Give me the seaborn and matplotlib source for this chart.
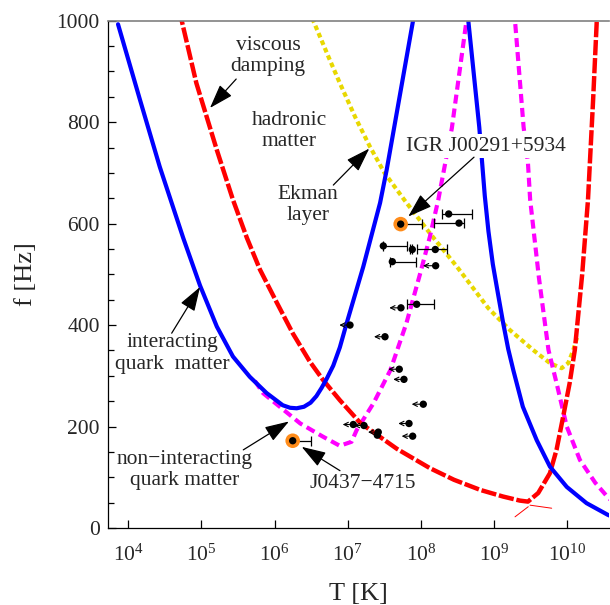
import numpy as np
import pandas as pd
import seaborn as sns
import matplotlib.pyplot as plt
from matplotlib.ticker import FixedLocator, MultipleLocator, LogFormatterSciNotation, NullLocator

#%% Data (log10 of T in K, f in Hz)
# interacting quark matter (blue, solid)
iq1_logT = [3.86, 4.16, 4.43, 4.75, 4.98, 5.21, 5.43, 5.66, 5.89, 6.11, 6.21, 6.30,
            6.40, 6.49, 6.57, 6.64, 6.71, 6.80, 6.89, 6.98, 7.21, 7.44, 7.53, 7.89, 7.93]
iq1_f = [993, 844, 712, 572, 478, 397, 338, 298, 266, 242, 237, 236,
         239, 247, 260, 276, 294, 320, 356, 402, 515, 641, 706, 1000, 1030]
iq2_logT = [8.63, 8.645, 8.795, 8.87, 8.92, 8.98, 9.05, 9.12, 9.19, 9.26, 9.39, 9.58, 9.76,
            9.99, 10.26, 10.55, 10.65]
iq2_f = [1020, 1000, 790, 655, 585, 520, 462, 405, 353, 311, 239, 173, 121,
         81, 49, 26, 20]

# non-interacting quark matter (magenta, dashed)
nq1_logT = [5.73, 5.84, 6.07, 6.35, 6.66, 6.89, 7.05, 7.12, 7.35, 7.58, 7.80, 7.99,
            8.12, 8.235, 8.42, 8.62, 8.64]
nq1_f = [290, 266, 239, 206, 180, 162, 170, 193, 246, 311, 404, 503,
         574, 647, 788, 1000, 1021]
nq2_logT = [9.276, 9.283, 9.40, 9.46, 9.49, 9.61, 9.74, 9.85, 9.99, 10.17, 10.38, 10.56, 10.65]
nq2_f = [1021, 1000, 791, 719, 647, 493, 351, 286, 200, 134, 89, 59, 49]

# hadronic matter, viscous damping (red, long dashes)
hm_logT = [4.69, 4.73, 4.93, 5.07, 5.21, 5.43, 5.62, 5.80, 6.03, 6.25, 6.48, 6.66,
           6.89, 7.17, 7.67, 8.12, 8.45, 8.81, 9.12, 9.35, 9.46, 9.60, 9.76, 9.85, 9.94,
           10.03, 10.10, 10.20, 10.28, 10.35, 10.40, 10.41]
hm_f = [1021, 1000, 877, 811, 745, 647, 572, 509, 444, 383, 328, 292,
        252, 207, 156, 118, 95, 75, 62, 54, 52, 69, 108, 154, 219,
        286, 351, 499, 647, 844, 1000, 1031]
hm_bits_logT = [[9.283, 9.464], [9.488, 9.784]]
hm_bits_f = [[22, 42], [45, 39]]

# Ekman layer (yellow, dotted)
ek_logT = [6.516, 6.527, 6.755, 6.89, 7.10, 7.30, 7.50, 7.78, 8.12, 8.49, 8.92, 9.215,
           9.53, 9.76, 9.92, 10.01, 10.08, 10.13]
ek_f = [1021, 1000, 922, 877, 810, 752, 700, 645, 581, 515, 433, 390,
        351, 325, 315, 325, 351, 375]

# pulsars with error bars on T
eb_logT = [8.377, 8.518, 7.484, 7.880, 8.194, 7.607, 7.940]
eb_lo = [8.281, 8.176, 7.484, 7.850, 7.944, 7.575, 7.803]
eb_hi = [8.699, 8.586, 7.803, 7.880, 8.350, 7.926, 8.180]
eb_f = [619, 601, 556, 549, 549, 525, 441]

# pulsars with upper limits on T
ul_logT = [8.199, 7.725, 7.029, 7.507, 7.702, 7.766, 8.030, 7.074, 7.220, 7.835, 7.415, 7.402, 7.885]
ul_tip = [8.026, 7.566, 6.883, 7.357, 7.552, 7.620, 7.872, 6.929, 7.083, 7.689, 7.275, 7.402, 7.735]
ul_f = [517, 434, 400, 377, 313, 293, 244, 204, 202, 206, 189, 183, 181]

# highlighted sources
src_names = ["IGR J00291+5934", "J0437\u22124715"]
src_logT = [7.721, 6.246]
src_lo = [7.667, 6.246]
src_hi = [8.008, 6.496]
src_f = [599, 172]

#%% Figure
sns.set_style("ticks")
plt.rcParams['font.family'] = ['Liberation Serif', 'DejaVu Serif']
plt.rcParams['mathtext.fontset'] = 'stix'
plt.rcParams['lines.scale_dashes'] = False

fig = plt.figure(figsize=(6.1, 6.05), dpi=100)
ax = fig.add_axes([108/610, 77/605, 501/610, 507.3/605])
ax.set_xscale('log')


def curve(logT, f, color, lw, dashes=None):
    df = pd.DataFrame({'T': 10**np.array(logT, dtype=float), 'f': f})
    sns.lineplot(data=df, x='T', y='f', ax=ax, color=color, lw=lw,
                 sort=False, estimator=None)
    line = ax.lines[-1]
    line.set_solid_joinstyle('round')
    if dashes is not None:
        line.set_dashes(dashes)
        line.set_dash_capstyle('butt')
    return line


curve(ek_logT, ek_f, '#e8d800', 3.0, (3.4, 2.4))
curve(nq1_logT, nq1_f, '#ff00ff', 3.0, (6.5, 3.6))
curve(nq2_logT, nq2_f, '#ff00ff', 3.0, (6.5, 3.6))
curve(hm_logT, hm_f, '#ff0000', 3.2, (11, 2.0))
for bl, bf in zip(hm_bits_logT, hm_bits_f):
    curve(bl, bf, '#ff0000', 0.7)
curve(iq1_logT, iq1_f, '#0000ff', 3.0)
curve(iq2_logT, iq2_f, '#0000ff', 3.0)

# error bars and upper limits
eb_T = 10**np.array(eb_logT)
ax.errorbar(eb_T, eb_f, xerr=[eb_T - 10**np.array(eb_lo), 10**np.array(eb_hi) - eb_T],
            fmt='none', ecolor='k', elinewidth=0.9, capsize=3.5, capthick=0.9, zorder=6)
src_T = 10**np.array(src_logT)
ax.errorbar(src_T, src_f, xerr=[src_T - 10**np.array(src_lo), 10**np.array(src_hi) - src_T],
            fmt='none', ecolor='k', elinewidth=0.9, capsize=3.5, capthick=0.9, zorder=6)
for lt, tp, ff in zip(ul_logT, ul_tip, ul_f):
    if tp < lt:
        ax.annotate('', xy=(10**tp, ff), xytext=(10**lt, ff),
                    arrowprops=dict(arrowstyle='->', lw=0.8, color='k',
                                    shrinkA=0, shrinkB=0, mutation_scale=8), zorder=6)

sns.scatterplot(x=src_T, y=src_f, ax=ax, color='#ff8c1a', s=110, edgecolor='none', zorder=7)
sns.scatterplot(x=np.concatenate([eb_T, 10**np.array(ul_logT), src_T]),
                y=np.concatenate([eb_f, ul_f, src_f]),
                ax=ax, color='k', s=28, edgecolor='none', zorder=8)

#%% Labels with arrows
arrow = dict(arrowstyle='-|>,head_length=0.75,head_width=0.25', color='k', lw=0.9,
             shrinkA=0, shrinkB=0, mutation_scale=20)
fs = 15.5
labels = [
    ("viscous\ndamping", 5.911, 930, (5.474, 885), (5.116, 828), False),
    ("hadronic\nmatter", 6.197, 783, None, None, False),
    ("Ekman\nlayer", 6.455, 637, (6.801, 676), (7.292, 748), False),
    (src_names[0], 8.886, 753, (8.723, 731), (7.825, 614), True),
    ("interacting\nquark  matter", 4.60, 344, (4.593, 384), (4.980, 475), False),
    ("non\u2212interacting\nquark matter", 4.77, 114, (5.571, 154), (6.195, 210), False),
    (src_names[1], 7.202, 87, (6.892, 113), (6.369, 160), False),
]
for txt, lx, ff, tail, tip, box in labels:
    t = ax.text(10**lx, ff, txt, ha='center', va='center', fontsize=fs,
                linespacing=1.15, zorder=9)
    if box:
        t.set_bbox(dict(facecolor='white', edgecolor='none', pad=2))
    if tail is not None:
        ax.annotate('', xy=(10**tip[0], tip[1]), xytext=(10**tail[0], tail[1]),
                    arrowprops=arrow, zorder=9)

#%% Axes
ax.set_xlim(10**3.723, 10**10.567)
ax.set_ylim(0, 1000)
ax.xaxis.set_major_locator(FixedLocator([10.0**k for k in range(4, 11)]))
ax.xaxis.set_major_formatter(LogFormatterSciNotation())
ax.xaxis.set_minor_locator(NullLocator())
ax.yaxis.set_major_locator(MultipleLocator(200))
ax.yaxis.set_minor_locator(MultipleLocator(50))
ax.tick_params(which='both', direction='in', color='k', width=0.9, labelsize=15.5)
ax.tick_params(which='major', length=6)
ax.tick_params(which='minor', length=4)
ax.tick_params(axis='x', pad=12)
ax.tick_params(axis='y', pad=6)
for s in ['left', 'bottom']:
    ax.spines[s].set_color('k')
    ax.spines[s].set_linewidth(0.9)
ax.spines['top'].set_color('#808080')
ax.spines['top'].set_linewidth(1.2)
ax.spines['right'].set_visible(False)
ax.set_xlabel('T [K]', fontsize=19, labelpad=12)
ax.set_ylabel('f [Hz]', fontsize=19, labelpad=14)

fig.savefig('out.png', dpi=100)
